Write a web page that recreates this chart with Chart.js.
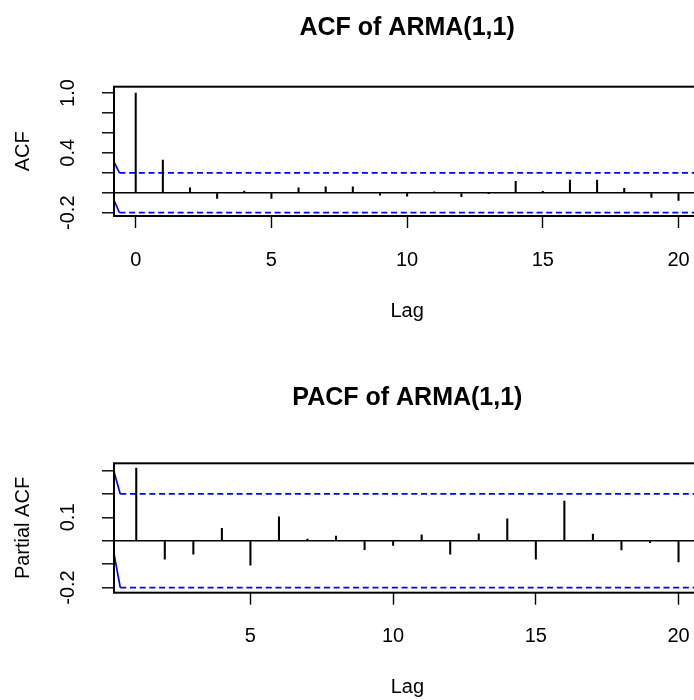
<!DOCTYPE html>
<html>
<head>
<meta charset="utf-8">
<script src="https://cdn.jsdelivr.net/npm/chart.js@4/dist/chart.umd.min.js"></script>
<style>
  html, body { margin: 0; padding: 0; background: #fff; overflow: hidden; width: 694px; height: 700px; }
  canvas { position: absolute; left: 0; }
</style>
</head>
<body>
<canvas id="acfChart" width="710" height="350" style="top:0"></canvas>
<canvas id="pacfChart" width="710" height="350" style="top:350px"></canvas>
<script>
// ACF, lags 0..20
const acfLags   = [0, 1, 2, 3, 4, 5, 6, 7, 8, 9, 10, 11, 12, 13, 14, 15, 16, 17, 18, 19, 20];
const acfValues = [1.0, 0.327, 0.05, -0.056, 0.016, -0.056, 0.05, 0.06, 0.06, -0.023, -0.033,
                   0.003, -0.04, -0.003, 0.115, 0.015, 0.127, 0.127, 0.045, -0.048, -0.077];

// PACF, lags 1..20
const pacfLags   = [1, 2, 3, 4, 5, 6, 7, 8, 9, 10, 11, 12, 13, 14, 15, 16, 17, 18, 19, 20];
const pacfValues = [0.311, -0.079, -0.057, 0.053, -0.104, 0.102, 0.007, 0.02, -0.038, -0.02,
                    0.025, -0.057, 0.03, 0.094, -0.079, 0.17, 0.029, -0.039, -0.008, -0.09];

// confidence bound (blue dashed)
const ciBound = 0.2;

// the short solid blue lead-in at the left edge of each bound
const acfLeadX      = [-0.8, -0.6];
const acfLeadUpper  = [0.31, 0.2];
const acfLeadLower  = [-0.075, -0.2];
const pacfLeadX     = [0.22, 0.44];
const pacfLeadUpper = [0.295, 0.2];
const pacfLeadLower = [-0.055, -0.2];

// y tick labels that R actually prints
const acfYTickLabels  = ['-0.2', '0.4', '1.0'];
const pacfYTickLabels = ['-0.2', '0.1'];

Chart.defaults.font.family = "'Liberation Sans', Arial, sans-serif";
Chart.defaults.color = '#000';
Chart.defaults.animation = false;

// box around the plot region
const framePlugin = {
  id: 'frame',
  afterDatasetsDraw(chart) {
    const { ctx, chartArea: a } = chart;
    ctx.save();
    ctx.strokeStyle = '#000';
    ctx.lineWidth = 2;
    ctx.strokeRect(a.left, a.top, a.right - a.left, a.bottom - a.top);
    ctx.restore();
  }
};

const pts = (xs, ys) => xs.map((x, i) => ({ x, y: ys[i] }));

function stickChart(id, o) {
  return new Chart(document.getElementById(id), {
    type: 'bar',
    data: {
      datasets: [
        {
          type: 'bar',
          data: pts(o.lags, o.values),
          backgroundColor: '#000',
          borderWidth: 0,
          barThickness: 1.4
        },
        // solid lead-in + dashed bound, upper and lower
        { type: 'line', data: pts(o.leadX, o.leadUpper), borderColor: '#0000ff', borderWidth: 1.7, pointRadius: 0 },
        { type: 'line', data: pts(o.leadX, o.leadLower), borderColor: '#0000ff', borderWidth: 1.7, pointRadius: 0 },
        { type: 'line', data: pts([o.leadX[1], o.xMax], [ciBound, ciBound]), borderColor: '#0000ff', borderWidth: 1.7, borderDash: [6, 3.7], pointRadius: 0 },
        { type: 'line', data: pts([o.leadX[1], o.xMax], [-ciBound, -ciBound]), borderColor: '#0000ff', borderWidth: 1.7, borderDash: [6, 3.7], pointRadius: 0 }
      ]
    },
    options: {
      responsive: false,
      layout: { padding: { left: 0, right: 9, top: 0, bottom: 0 } },
      plugins: {
        legend: { display: false },
        tooltip: { enabled: false },
        title: {
          display: true,
          text: o.title,
          fullSize: false,
          color: '#000',
          font: { size: 25, weight: 'bold' },
          padding: o.titlePad
        }
      },
      scales: {
        x: {
          type: 'linear',
          min: o.xMin,
          max: o.xMax,
          offset: false,
          afterFit: s => { s.height = o.xAxisHeight; },
          border: { display: false },
          grid: { drawOnChartArea: false, drawTicks: true, tickLength: 12, tickColor: '#000', tickWidth: 1.4, offset: false },
          ticks: { stepSize: 5, includeBounds: false, autoSkip: false, maxRotation: 0, padding: 20, color: '#000', font: { size: 20 } },
          title: { display: true, text: 'Lag', color: '#000', font: { size: 20 }, padding: { top: 0, bottom: o.lagPad } }
        },
        y: {
          min: o.yMin,
          max: o.yMax,
          afterFit: s => { s.width = 114; },
          border: { display: false },
          grid: {
            color: c => (c.tick && Math.abs(c.tick.value) < 1e-9) ? '#000' : 'rgba(0,0,0,0)',
            lineWidth: 1.6,
            drawTicks: true,
            tickLength: 12,
            tickColor: '#000',
            tickWidth: 1.4
          },
          ticks: {
            stepSize: o.yStep,
            includeBounds: false,
            autoSkip: false,
            minRotation: 90,
            maxRotation: 90,
            crossAlign: 'center',
            padding: 16,
            color: '#000',
            font: { size: 20 },
            callback: v => { const s = v.toFixed(1); return o.yLabels.includes(s) ? s : ''; }
          },
          title: { display: true, text: o.yTitle, color: '#000', font: { size: 20 }, padding: { top: 11, bottom: 0 } }
        }
      }
    },
    plugins: [framePlugin]
  });
}

/* ---------- ACF ---------- */
stickChart('acfChart', {
  title: 'ACF of ARMA(1,1)',
  yTitle: 'ACF',
  lags: acfLags,
  values: acfValues,
  leadX: acfLeadX, leadUpper: acfLeadUpper, leadLower: acfLeadLower,
  xMin: -0.8, xMax: 20.8,
  yMin: -0.233, yMax: 1.063, yStep: 0.2,
  yLabels: acfYTickLabels,
  titlePad: { top: 12.7, bottom: 44 },
  xAxisHeight: 134,
  lagPad: 26.5
});

/* ---------- PACF ---------- */
stickChart('pacfChart', {
  title: 'PACF of ARMA(1,1)',
  yTitle: 'Partial ACF',
  lags: pacfLags,
  values: pacfValues,
  leadX: pacfLeadX, leadUpper: pacfLeadUpper, leadLower: pacfLeadLower,
  xMin: 0.22, xMax: 20.78,
  yMin: -0.222, yMax: 0.331, yStep: 0.1,
  yLabels: pacfYTickLabels,
  titlePad: { top: 32.7, bottom: 50.6 },
  xAxisHeight: 107.3,
  lagPad: 0.5
});
</script>
</body>
</html>
